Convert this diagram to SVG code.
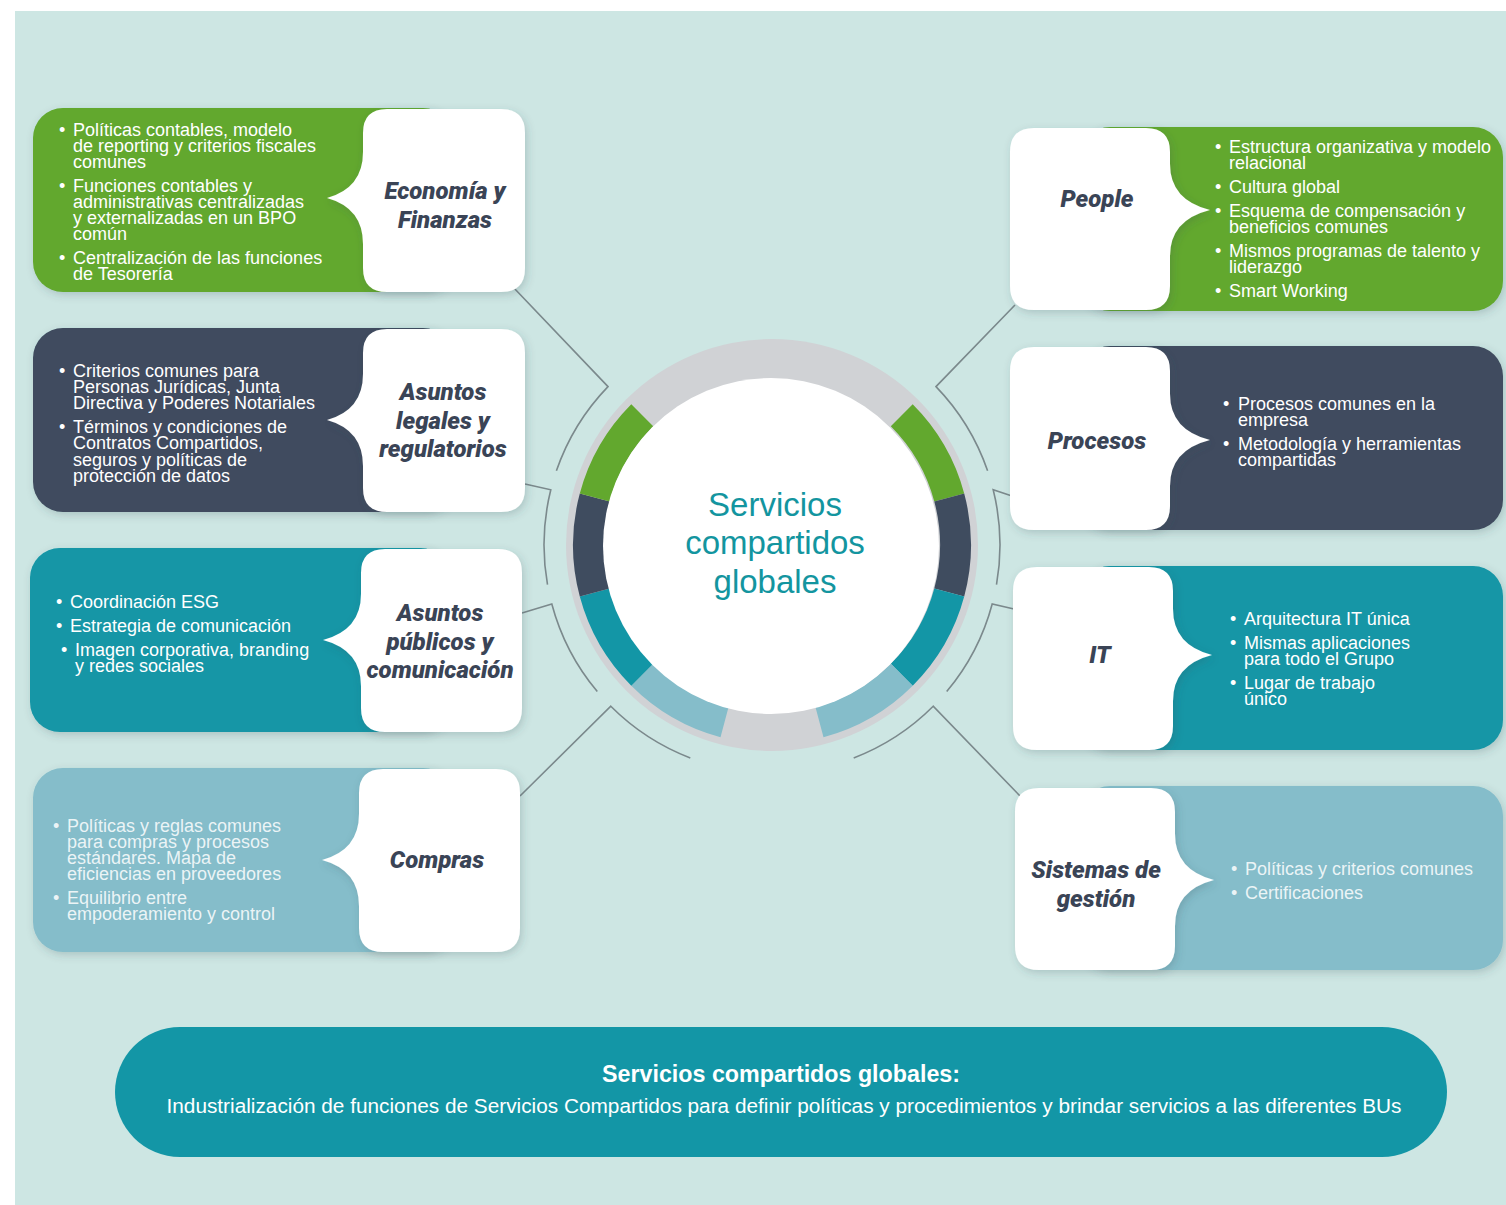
<svg xmlns="http://www.w3.org/2000/svg" width="1506" height="1205" viewBox="0 0 1506 1205">
<defs>
<filter id="sh" x="-20%" y="-20%" width="140%" height="140%"><feDropShadow dx="2" dy="3" stdDeviation="4" flood-color="#2f4f55" flood-opacity="0.22"/></filter>
<style>
.bul{font-family:"Liberation Sans",Arial,sans-serif;font-size:18px;fill:#ffffff;}
.bl{fill:#ffffff;fill-opacity:0.85;}
.ttl{font-family:Roboto,"Liberation Sans",sans-serif;font-weight:900;font-style:italic;font-size:24px;fill:#3a4456;text-anchor:middle;}
.card{fill:#ffffff;filter:url(#sh);}
.con{fill:none;stroke:#7b898c;stroke-width:1.6;}
</style>
</defs>
<rect x="0" y="0" width="1506" height="1205" fill="#ffffff"/>
<rect x="15" y="11" width="1491" height="1194" fill="#cde6e3"/>

<g id="connectors">
<path class="con" d="M513,287 L608,386.6 A228,228 0 0 0 556.4,470.8"/>
<path class="con" d="M525,484 L550.8,489.8 A228,228 0 0 0 547.5,584.6"/>
<path class="con" d="M522,613 L551.8,604 A228,228 0 0 0 597.3,691.6"/>
<path class="con" d="M520,796 L610.8,706.2 A228,228 0 0 0 690.3,757.9"/>
<path class="con" d="M1015,305 L936,386.6 A228,228 0 0 1 987.6,470.8"/>
<path class="con" d="M1012,496 L993.2,489.8 A228,228 0 0 1 996.5,584.6"/>
<path class="con" d="M1014,609 L992.2,604 A228,228 0 0 1 946.7,691.6"/>
<path class="con" d="M1022,798 L933.2,706.2 A228,228 0 0 1 853.7,757.9"/>
</g>

<g id="center">
<circle cx="772" cy="545" r="206" fill="#d0d2d5"/>
<path fill="#85bdca" d="M720.5,737.2 A199,199 0 0 1 631.3,685.7 L653.2,663.8 A168,168 0 0 0 728.5,707.3 Z"/>
<path fill="#1396a6" d="M631.3,685.7 A199,199 0 0 1 579.8,596.5 L609.7,588.5 A168,168 0 0 0 653.2,663.8 Z"/>
<path fill="#3f4c5f" d="M579.8,596.5 A199,199 0 0 1 579.8,493.5 L609.7,501.5 A168,168 0 0 0 609.7,588.5 Z"/>
<path fill="#62a82e" d="M579.8,493.5 A199,199 0 0 1 631.3,404.3 L653.2,426.2 A168,168 0 0 0 609.7,501.5 Z"/>
<path fill="#62a82e" d="M912.7,404.3 A199,199 0 0 1 964.2,493.5 L934.3,501.5 A168,168 0 0 0 890.8,426.2 Z"/>
<path fill="#3f4c5f" d="M964.2,493.5 A199,199 0 0 1 964.2,596.5 L934.3,588.5 A168,168 0 0 0 934.3,501.5 Z"/>
<path fill="#1396a6" d="M964.2,596.5 A199,199 0 0 1 912.7,685.7 L890.8,663.8 A168,168 0 0 0 934.3,588.5 Z"/>
<path fill="#85bdca" d="M912.7,685.7 A199,199 0 0 1 823.5,737.2 L815.5,707.3 A168,168 0 0 0 890.8,663.8 Z"/>
<circle cx="771" cy="546" r="168" fill="#ffffff"/>
<text font-family="'Liberation Sans',Arial,sans-serif" font-size="33" fill="#13959f" text-anchor="middle"><tspan x="775" y="516">Servicios</tspan><tspan x="775" y="554">compartidos</tspan><tspan x="775" y="593">globales</tspan></text>
</g>

<g id="economia">
<rect x="33" y="108" width="420" height="184" rx="30" fill="#62a82e" filter="url(#sh)"/>
<path class="card" d="M387,109 H501 Q525,109 525,133 V268 Q525,292 501,292 H387 Q363,292 363,268 V244 Q363,208 327,198 Q363,188 363,152 V133 Q363,109 387,109 Z"/>
<text class="ttl"><tspan x="445" y="199">Economía y</tspan><tspan x="445" y="228">Finanzas</tspan></text>
<text class="bul"><tspan x="59" y="136">•</tspan><tspan x="59" y="192">•</tspan><tspan x="59" y="264">•</tspan></text>
<text class="bul"><tspan x="73" y="136">Políticas contables, modelo</tspan><tspan x="73" y="152">de reporting y criterios fiscales</tspan><tspan x="73" y="168">comunes</tspan><tspan x="73" y="192">Funciones contables y</tspan><tspan x="73" y="208">administrativas centralizadas</tspan><tspan x="73" y="224">y externalizadas en un BPO</tspan><tspan x="73" y="240">común</tspan><tspan x="73" y="264">Centralización de las funciones</tspan><tspan x="73" y="280">de Tesorería</tspan></text>
</g>

<g id="legales">
<rect x="33" y="328" width="420" height="184" rx="30" fill="#3f4c5f" filter="url(#sh)"/>
<path class="card" d="M387,329 H501 Q525,329 525,353 V488 Q525,512 501,512 H387 Q363,512 363,488 V466 Q363,430 327,420 Q363,410 363,374 V353 Q363,329 387,329 Z"/>
<text class="ttl"><tspan x="443" y="400">Asuntos</tspan><tspan x="443" y="429">legales y</tspan><tspan x="443" y="457">regulatorios</tspan></text>
<text class="bul"><tspan x="59" y="377">•</tspan><tspan x="59" y="433">•</tspan></text>
<text class="bul"><tspan x="73" y="377">Criterios comunes para</tspan><tspan x="73" y="393">Personas Jurídicas, Junta</tspan><tspan x="73" y="409">Directiva y Poderes Notariales</tspan><tspan x="73" y="433">Términos y condiciones de</tspan><tspan x="73" y="449">Contratos Compartidos,</tspan><tspan x="73" y="466">seguros y políticas de</tspan><tspan x="73" y="482">protección de datos</tspan></text>
</g>

<g id="publicos">
<rect x="30" y="548" width="420" height="184" rx="30" fill="#1396a6" filter="url(#sh)"/>
<path class="card" d="M385,549 H498 Q522,549 522,573 V708 Q522,732 498,732 H385 Q361,732 361,708 V686 Q361,650 323,640 Q361,630 361,594 V573 Q361,549 385,549 Z"/>
<text class="ttl"><tspan x="440" y="621">Asuntos</tspan><tspan x="440" y="650">públicos y</tspan><tspan x="440" y="678">comunicación</tspan></text>
<text class="bul"><tspan x="56" y="608">•</tspan><tspan x="56" y="632">•</tspan><tspan x="61" y="656">•</tspan></text>
<text class="bul"><tspan x="70" y="608">Coordinación ESG</tspan><tspan x="70" y="632">Estrategia de comunicación</tspan><tspan x="75" y="656">Imagen corporativa, branding</tspan><tspan x="75" y="672">y redes sociales</tspan></text>
</g>

<g id="compras">
<rect x="33" y="768" width="420" height="184" rx="30" fill="#85bdca" filter="url(#sh)"/>
<path class="card" d="M383,769 H496 Q520,769 520,793 V928 Q520,952 496,952 H383 Q359,952 359,928 V906 Q359,870 322,860 Q359,850 359,814 V793 Q359,769 383,769 Z"/>
<text class="ttl"><tspan x="437" y="868">Compras</tspan></text>
<text class="bul bl"><tspan x="53" y="832">•</tspan><tspan x="53" y="904">•</tspan></text>
<text class="bul bl"><tspan x="67" y="832">Políticas y reglas comunes</tspan><tspan x="67" y="848">para compras y procesos</tspan><tspan x="67" y="864">estándares. Mapa de</tspan><tspan x="67" y="880">eficiencias en proveedores</tspan><tspan x="67" y="904">Equilibrio entre</tspan><tspan x="67" y="920">empoderamiento y control</tspan></text>
</g>

<g id="people">
<rect x="1080" y="127" width="423" height="184" rx="30" fill="#62a82e" filter="url(#sh)"/>
<path class="card" d="M1034,128 H1146 Q1170,128 1170,152 V164 Q1170,200 1210,210 Q1170,220 1170,256 V286 Q1170,310 1146,310 H1034 Q1010,310 1010,286 V152 Q1010,128 1034,128 Z"/>
<text class="ttl"><tspan x="1097" y="207">People</tspan></text>
<text class="bul"><tspan x="1215" y="153">•</tspan><tspan x="1215" y="193">•</tspan><tspan x="1215" y="217">•</tspan><tspan x="1215" y="257">•</tspan><tspan x="1215" y="297">•</tspan></text>
<text class="bul"><tspan x="1229" y="153">Estructura organizativa y modelo</tspan><tspan x="1229" y="169">relacional</tspan><tspan x="1229" y="193">Cultura global</tspan><tspan x="1229" y="217">Esquema de compensación y</tspan><tspan x="1229" y="233">beneficios comunes</tspan><tspan x="1229" y="257">Mismos programas de talento y</tspan><tspan x="1229" y="273">liderazgo</tspan><tspan x="1229" y="297">Smart Working</tspan></text>
</g>

<g id="procesos">
<rect x="1080" y="346" width="423" height="184" rx="30" fill="#3f4c5f" filter="url(#sh)"/>
<path class="card" d="M1034,347 H1146 Q1170,347 1170,371 V394 Q1170,430 1210,440 Q1170,450 1170,486 V506 Q1170,530 1146,530 H1034 Q1010,530 1010,506 V371 Q1010,347 1034,347 Z"/>
<text class="ttl"><tspan x="1097" y="449">Procesos</tspan></text>
<text class="bul"><tspan x="1223" y="410">•</tspan><tspan x="1223" y="450">•</tspan></text>
<text class="bul"><tspan x="1238" y="410">Procesos comunes en la</tspan><tspan x="1238" y="426">empresa</tspan><tspan x="1238" y="450">Metodología y herramientas</tspan><tspan x="1238" y="466">compartidas</tspan></text>
</g>

<g id="it">
<rect x="1080" y="566" width="423" height="184" rx="30" fill="#1396a6" filter="url(#sh)"/>
<path class="card" d="M1037,567 H1149 Q1173,567 1173,591 V609 Q1173,645 1212,655 Q1173,665 1173,701 V726 Q1173,750 1149,750 H1037 Q1013,750 1013,726 V591 Q1013,567 1037,567 Z"/>
<text class="ttl"><tspan x="1100" y="663">IT</tspan></text>
<text class="bul"><tspan x="1230" y="625">•</tspan><tspan x="1230" y="649">•</tspan><tspan x="1230" y="689">•</tspan></text>
<text class="bul"><tspan x="1244" y="625">Arquitectura IT única</tspan><tspan x="1244" y="649">Mismas aplicaciones</tspan><tspan x="1244" y="665">para todo el Grupo</tspan><tspan x="1244" y="689">Lugar de trabajo</tspan><tspan x="1244" y="705">único</tspan></text>
</g>

<g id="sistemas">
<rect x="1080" y="786" width="423" height="184" rx="30" fill="#85bdca" filter="url(#sh)"/>
<path class="card" d="M1039,788 H1151 Q1175,788 1175,812 V834 Q1175,870 1214,880 Q1175,890 1175,926 V946 Q1175,970 1151,970 H1039 Q1015,970 1015,946 V812 Q1015,788 1039,788 Z"/>
<text class="ttl"><tspan x="1096" y="878">Sistemas de</tspan><tspan x="1096" y="907">gestión</tspan></text>
<text class="bul bl"><tspan x="1231" y="875">•</tspan><tspan x="1231" y="899">•</tspan></text>
<text class="bul bl"><tspan x="1245" y="875">Políticas y criterios comunes</tspan><tspan x="1245" y="899">Certificaciones</tspan></text>
</g>

<g id="banner">
<rect x="115" y="1027" width="1332" height="130" rx="65" fill="#1396a6"/>
<text font-family="'Liberation Sans',Arial,sans-serif" font-size="23" font-weight="bold" fill="#ffffff" text-anchor="middle" x="781" y="1082" textLength="358" lengthAdjust="spacingAndGlyphs">Servicios compartidos globales:</text>
<text font-family="'Liberation Sans',Arial,sans-serif" font-size="20" fill="#ffffff" text-anchor="middle" x="784" y="1113" textLength="1235" lengthAdjust="spacingAndGlyphs">Industrialización de funciones de Servicios Compartidos para definir políticas y procedimientos y brindar servicios a las diferentes BUs</text>
</g>
</svg>
